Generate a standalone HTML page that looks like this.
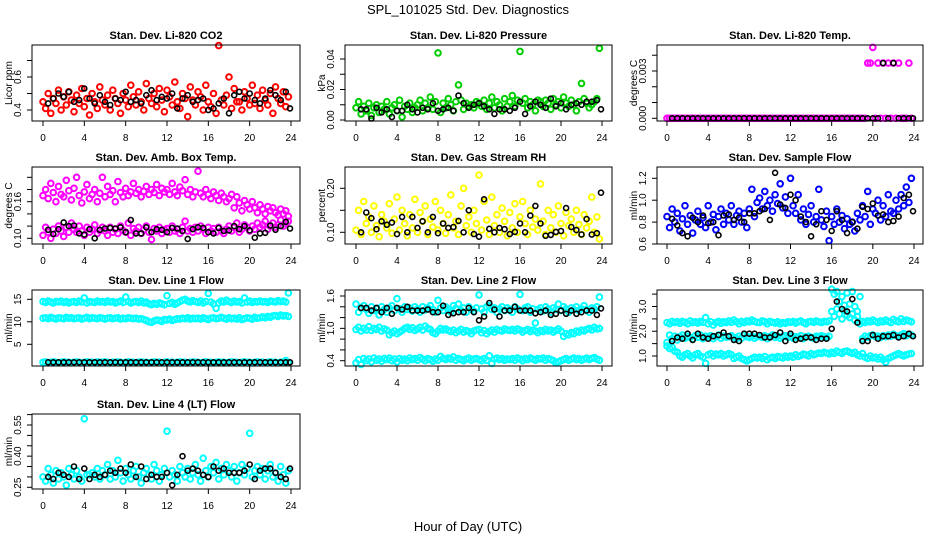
<!DOCTYPE html>
<html><head><meta charset="utf-8"><title>SPL_101025 Std. Dev. Diagnostics</title>
<style>
html,body{margin:0;padding:0;background:#fff;}
svg{display:block;font-family:"Liberation Sans",Arial,sans-serif;}
</style></head>
<body>
<svg id="chart" width="936" height="540" viewBox="0 0 936 540" xmlns="http://www.w3.org/2000/svg">
<rect width="936" height="540" fill="#fff"/>
<text x="468" y="14" text-anchor="middle" font-size="13">SPL_101025  Std. Dev. Diagnostics</text>
<text x="468" y="531" text-anchor="middle" font-size="13">Hour of Day (UTC)</text>
</svg>
<script>
const hours96 = [0,0.25,0.5,0.75,1,1.25,1.5,1.75,2,2.25,2.5,2.75,3,3.25,3.5,3.75,4,4.25,4.5,4.75,5,5.25,5.5,5.75,6,6.25,6.5,6.75,7,7.25,7.5,7.75,8,8.25,8.5,8.75,9,9.25,9.5,9.75,10,10.25,10.5,10.75,11,11.25,11.5,11.75,12,12.25,12.5,12.75,13,13.25,13.5,13.75,14,14.25,14.5,14.75,15,15.25,15.5,15.75,16,16.25,16.5,16.75,17,17.25,17.5,17.75,18,18.25,18.5,18.75,19,19.25,19.5,19.75,20,20.25,20.5,20.75,21,21.25,21.5,21.75,22,22.25,22.5,22.75,23,23.25,23.5,23.75];
const hours48 = [0.5,1,1.5,2,2.5,3,3.5,4,4.5,5,5.5,6,6.5,7,7.5,8,8.5,9,9.5,10,10.5,11,11.5,12,12.5,13,13.5,14,14.5,15,15.5,16,16.5,17,17.5,18,18.5,19,19.5,20,20.5,21,21.5,22,22.5,23,23.5,23.9];
const xTicks = [0,4,8,12,16,20,24];

const co2Red = [.45,.41,.50,.38,.47,.44,.52,.40,.48,.43,.51,.46,
.39,.49,.44,.53,.42,.47,.37,.50,.45,.41,.54,.46,
.43,.49,.40,.52,.47,.44,.38,.50,.46,.42,.55,.48,
.43,.51,.45,.40,.56,.47,.44,.50,.42,.53,.46,.39,
.52,.48,.43,.57,.45,.41,.50,.47,.36,.54,.46,.43,
.51,.48,.40,.55,.45,.42,.50,.38,.79,.46,.43,.49,
.60,.41,.53,.45,.45,.40,.51,.47,.43,.55,.44,.49,
.41,.52,.46,.43,.50,.38,.54,.47,.44,.51,.42,.48];
const co2Black = [.44,.47,.50,.48,.51,.45,.46,.53,.47,.44,.49,.45,
.43,.47,.46,.51,.45,.46,.44,.49,.52,.46,.48,.47,
.50,.41,.47,.49,.45,.46,.47,.40,.41,.44,.47,.38,
.49,.51,.47,.50,.46,.44,.47,.52,.49,.46,.51,.41];

const presGreen = [.008,.012,.004,.009,.006,.011,.003,.008,.010,.005,.009,.007,
.012,.004,.008,.010,.006,.013,.002,.009,.007,.011,.005,.008,
.010,.013,.006,.011,.008,.015,.007,.012,.044,.005,.011,.008,
.014,.010,.006,.012,.023,.013,.007,.011,.009,.010,.008,.012,
.011,.009,.013,.007,.011,.015,.008,.012,.010,.006,.014,.009,
.012,.016,.009,.013,.045,.011,.014,.008,.012,.010,.006,.013,
.012,.009,.013,.011,.007,.014,.010,.012,.008,.015,.011,.009,
.013,.010,.006,.012,.024,.014,.011,.008,.010,.012,.014,.047];
const presBlack = [.007,.007,.001,.008,.005,.007,.002,.006,.006,.010,.007,.005,
.008,.007,.011,.006,.007,.008,.006,.016,.011,.008,.010,.011,
.009,.007,.004,.007,.007,.006,.008,.012,.004,.009,.012,.010,
.008,.014,.009,.011,.007,.010,.011,.010,.012,.012,.013,.007];

const tempMag = [0,0,0,0,0,0,0,0,0,0,0,0,
0,0,0,0,0,0,0,0,0,0,0,0,
0,0,0,0,0,0,0,0,0,0,0,0,
0,0,0,0,0,0,0,0,0,0,0,0,
0,0,0,0,0,0,0,0,0,0,0,0,
0,0,0,0,0,0,0,0,0,0,0,0,
0,0,0,0,0,0,.0035,.0035,.0045,0,.0035,0,
.0035,0,.0035,0,.0035,0,.0035,0,0,0,.0035,0];
const tempBlack = [0,0,0,0,0,0,0,0,0,0,0,0,
0,0,0,0,0,0,0,0,0,0,0,0,
0,0,0,0,0,0,0,0,0,0,0,0,
0,0,0,0,0,.0035,0,.0035,0,0,0,0];

const boxUpper = [.170,.180,.165,.190,.175,.160,.185,.172,.168,.195,.178,.163,
.182,.200,.170,.158,.176,.188,.165,.172,.180,.160,.174,.200,
.168,.185,.172,.178,.160,.193,.175,.168,.182,.170,.176,.190,
.174,.180,.168,.177,.185,.172,.180,.175,.188,.170,.182,.176,
.180,.172,.190,.176,.170,.184,.178,.196,.172,.180,.168,.176,
.210,.174,.168,.180,.172,.165,.176,.170,.162,.174,.168,.160,
.165,.172,.150,.168,.158,.145,.162,.155,.148,.160,.150,.142,
.155,.148,.140,.152,.145,.150,.142,.138,.148,.140,.145,.136];
const boxLower = [.105,.118,.110,.100,.115,.108,.120,.112,.103,.118,.110,.125,
.115,.110,.120,.112,.105,.118,.110,.115,.122,.108,.113,.118,
.112,.105,.118,.110,.115,.108,.120,.113,.110,.125,.105,.116,
.112,.118,.108,.114,.120,.110,.098,.116,.112,.118,.108,.114,
.116,.110,.120,.112,.115,.108,.118,.128,.112,.116,.110,.118,
.112,.120,.115,.108,.118,.112,.116,.110,.118,.112,.108,.115,
.120,.112,.118,.125,.110,.115,.122,.118,.112,.120,.115,.125,
.118,.122,.128,.115,.120,.125,.118,.122,.130,.120,.125,.128];
const boxBlack = [.114,.107,.115,.126,.120,.121,.108,.106,.115,.100,.114,.116,
.117,.116,.118,.110,.130,.108,.108,.118,.110,.115,.114,.110,
.117,.116,.112,.099,.115,.118,.117,.110,.108,.117,.112,.113,
.120,.115,.120,.113,.101,.108,.109,.121,.114,.120,.127,.116];

const rhYellow = [.105,.150,.095,.170,.120,.135,.100,.160,.115,.090,.140,.125,
.110,.165,.098,.130,.180,.105,.150,.120,.092,.140,.110,.175,
.100,.145,.125,.160,.095,.130,.112,.170,.105,.150,.120,.098,
.140,.185,.110,.125,.095,.160,.200,.115,.135,.100,.150,.120,
.230,.105,.170,.128,.095,.180,.115,.140,.100,.155,.125,.092,
.145,.110,.165,.100,.135,.170,.120,.095,.150,.112,.130,.105,
.210,.125,.095,.150,.110,.140,.100,.160,.120,.092,.145,.115,
.130,.100,.150,.118,.095,.140,.110,.125,.180,.100,.135,.085];
const rhBlack = [.100,.145,.132,.107,.125,.117,.122,.096,.135,.100,.135,.110,
.125,.100,.135,.098,.120,.110,.112,.126,.100,.150,.096,.090,
.175,.108,.100,.110,.107,.096,.101,.120,.100,.138,.160,.120,
.092,.094,.101,.103,.155,.112,.105,.095,.130,.095,.098,.190];

const flowBlue = [.85,.75,.92,.80,.88,.72,.83,.95,.78,.86,.70,.82,
.90,.78,.84,.75,.95,.80,.87,.73,.85,.92,.78,.88,
.82,.95,.78,.86,.90,.80,.88,.75,.92,1.10,.85,.98,
1.02,.92,1.08,.95,1.00,.90,1.05,.97,1.15,.93,1.03,.88,
1.20,.95,.88,1.05,.82,.92,.78,.87,.95,.80,.85,1.10,
.82,.76,.90,.63,.85,.78,.92,.80,.86,.74,.83,.78,
.80,.72,.88,.82,.95,.85,1.08,.78,.92,.88,1.00,.82,
.95,.85,1.05,.90,.88,1.00,.92,1.05,.95,1.12,.98,1.20];
const flowBlack = [.83,.77,.70,.67,.84,.80,.86,.79,.80,.68,.86,.87,
.82,.84,.80,.88,.88,.90,.92,.82,1.25,.96,.93,1.05,
1.00,.85,.80,.67,.78,.90,.82,.72,.90,.82,.70,.80,
.74,.94,.92,.97,.86,.87,.80,.81,.85,1.02,1.05,.90];

const l1Top = [14.5,14.3,14.6,14.4,14.2,14.5,14.4,14.6,14.3,14.5,14.2,14.4,
14.5,14.3,14.6,14.4,15.3,14.2,14.5,14.4,14.3,14.6,14.4,14.5,
14.3,14.6,14.4,14.5,14.2,14.4,14.6,14.3,15.5,14.5,14.2,14.4,
14.5,14.3,14.6,14.2,14.4,14.0,13.8,14.1,13.9,14.2,14.0,13.8,
15.8,14.1,14.3,13.9,14.2,14.5,14.8,15.0,14.6,14.4,14.7,14.5,
14.3,14.6,14.2,14.5,16.3,14.4,14.0,13.0,14.2,14.6,14.4,14.8,
14.5,14.3,14.6,14.4,14.5,14.2,15.3,14.4,14.6,14.3,14.5,14.4,
14.6,14.4,14.5,14.3,14.6,14.5,14.4,14.7,14.5,14.6,14.4,16.4];
const l1Mid = [10.8,10.9,10.7,11.0,10.8,10.6,10.9,10.8,10.7,11.0,10.8,10.9,
10.7,10.8,10.9,10.6,10.8,11.0,10.7,10.9,10.8,10.7,10.9,10.8,
10.6,10.8,10.9,10.7,10.8,10.9,10.6,10.8,10.7,10.9,10.8,10.7,
10.8,10.6,10.7,10.5,10.3,10.0,9.9,10.2,10.4,10.3,10.1,10.5,
10.4,10.6,10.3,10.5,10.7,10.6,10.8,10.7,10.9,10.6,10.8,10.7,
10.8,10.6,10.9,10.7,10.5,10.8,10.9,10.7,10.8,11.0,10.8,10.6,
10.9,10.7,10.8,10.6,10.9,10.5,10.7,10.9,10.8,10.6,11.0,10.8,
10.9,11.1,10.9,11.2,11.0,11.3,11.4,11.2,11.5,11.3,11.4,11.2];
const l1Low = [1.0,1.1,0.9,1.0,1.1,1.0,0.9,1.0,1.1,1.0,1.0,0.9,
1.0,1.1,1.0,0.9,1.0,1.1,1.0,1.0,0.9,1.1,1.0,1.0,
1.1,1.0,0.9,1.0,1.0,1.1,1.0,0.9,1.0,1.1,1.0,1.0,
0.9,1.0,1.1,1.0,1.0,0.9,1.0,1.1,1.0,1.0,0.9,1.0,
1.1,1.0,1.0,0.9,1.0,1.1,1.0,1.0,0.9,1.0,1.1,1.0,
1.0,0.9,1.0,1.1,1.0,1.0,0.9,1.0,1.1,1.0,1.0,0.9,
1.0,1.1,1.0,1.0,0.9,1.0,1.1,1.0,1.0,0.9,1.0,1.1,
1.0,1.0,0.9,1.0,1.1,1.0,1.0,0.9,1.0,1.1,1.4,1.0];
const l1Black = [1.0,1.0,1.0,1.0,1.0,1.0,1.0,1.0,1.0,1.0,1.0,1.0,
1.0,1.0,1.0,1.0,1.0,1.0,1.0,1.0,1.0,1.0,1.0,1.0,
1.0,1.0,1.0,1.0,1.0,1.0,1.0,1.0,1.0,1.0,1.0,1.0,
1.0,1.0,1.0,1.0,1.0,1.0,1.0,1.0,1.0,1.0,1.0,1.0];

const l2Top = [1.45,1.30,1.38,1.42,1.35,1.28,1.40,1.33,1.37,1.25,1.40,1.35,
1.30,1.38,1.42,1.33,1.55,1.36,1.30,1.40,1.35,1.38,1.32,1.40,
1.36,1.30,1.40,1.34,1.38,1.42,1.35,1.30,1.52,1.38,1.33,1.40,
1.35,1.30,1.42,1.37,1.45,1.33,1.38,1.30,1.40,1.35,1.32,1.38,
1.62,1.36,1.30,1.40,1.42,1.35,1.38,1.30,1.36,1.40,1.33,1.38,
1.35,1.30,1.40,1.36,1.63,1.33,1.38,1.40,1.30,1.36,1.10,1.35,
1.38,1.32,1.40,1.36,1.30,1.38,1.35,1.45,1.33,1.40,1.36,1.30,
1.38,1.35,1.40,1.33,1.36,1.42,1.35,1.30,1.38,1.36,1.40,1.58];
const l2Mid = [.98,1.02,.95,1.00,.97,1.03,.96,1.00,.98,1.02,.95,.99,
.97,.88,.92,.95,.90,.93,.96,1.00,1.02,.98,1.01,.96,
.99,1.02,.97,1.04,1.00,.98,.92,.90,.95,1.00,.97,.99,
.96,.94,.97,.92,.95,.98,.93,.96,.94,.90,.95,.97,
.98,.92,.96,.90,.94,.97,.93,.98,.96,.95,.99,.97,
.96,.98,.95,.99,.97,.93,.96,.98,.94,.97,.95,.92,
.96,.94,.98,.95,.97,.93,.96,.99,.95,.85,.90,.88,
.92,.90,.95,.93,.97,.95,.98,1.00,.97,1.02,.99,1.00];
const l2Low = [.36,.42,.33,.44,.40,.43,.38,.45,.41,.43,.39,.44,
.42,.45,.40,.43,.38,.44,.41,.43,.40,.45,.42,.44,
.41,.46,.43,.40,.44,.42,.39,.43,.41,.48,.44,.42,
.45,.43,.47,.41,.44,.42,.40,.43,.45,.41,.43,.44,
.42,.40,.44,.41,.49,.35,.43,.45,.42,.44,.41,.43,
.42,.44,.41,.45,.43,.40,.44,.42,.45,.43,.41,.44,
.43,.45,.41,.44,.42,.40,.36,.38,.40,.42,.44,.41,
.43,.45,.42,.44,.41,.43,.45,.42,.44,.46,.43,.41];
const l2Black = [1.38,1.38,1.33,1.38,1.30,1.38,1.27,1.38,1.35,1.40,1.33,1.33,
1.33,1.35,1.30,1.30,1.42,1.25,1.28,1.30,1.30,1.38,1.30,1.15,
1.22,1.47,1.35,1.22,1.33,1.33,1.40,1.33,1.33,1.33,1.28,1.30,
1.33,1.25,1.27,1.33,1.27,1.33,1.27,1.30,1.33,1.33,1.25,1.37];

const l3Top = [2.35,2.30,2.40,2.35,2.38,2.32,2.40,2.36,2.30,2.42,2.35,2.38,
2.33,2.40,2.36,2.55,2.30,2.38,2.25,2.35,2.40,2.32,2.38,2.35,
2.42,2.36,2.45,2.38,2.30,2.40,2.35,2.42,2.38,2.45,2.40,2.36,
2.35,2.42,2.38,2.30,2.40,2.36,2.33,2.38,2.30,2.35,2.32,2.38,
2.36,2.40,2.33,2.38,2.42,2.35,2.30,2.38,2.40,2.36,2.42,2.38,
2.35,2.40,2.38,2.42,3.70,3.50,3.60,3.20,3.40,3.05,3.55,3.10,
3.60,3.00,2.80,3.40,2.40,2.35,2.42,2.38,2.45,2.40,2.35,2.42,
2.38,2.45,2.40,2.35,2.48,2.42,2.38,2.50,2.40,2.45,2.42,2.38];
const l3Mid = [1.55,1.85,1.70,1.80,1.65,1.78,1.85,1.72,1.80,1.75,1.68,1.82,
1.76,1.85,1.70,1.80,1.75,1.82,1.70,1.78,1.85,1.72,1.80,1.76,
1.78,1.82,1.75,1.70,1.80,1.72,1.85,1.78,1.75,1.80,1.72,1.78,
1.80,1.75,1.82,1.70,1.78,1.85,1.75,1.80,1.72,1.78,1.82,1.75,
1.80,1.72,1.78,1.75,1.82,1.70,1.78,1.80,1.75,1.72,1.80,1.78,
1.82,1.78,1.75,1.80,2.80,2.60,2.90,2.70,2.50,2.85,2.65,2.55,
2.70,2.45,2.60,2.30,1.70,1.80,1.75,1.82,1.85,1.78,1.80,1.75,
1.82,1.78,1.85,1.80,1.88,1.82,1.78,1.85,1.90,1.82,1.88,1.85];
const l3Low = [1.40,1.30,1.35,1.20,1.15,1.00,0.95,1.05,1.10,1.00,0.92,1.05,
1.10,1.00,0.95,0.70,1.05,1.10,1.00,1.08,1.05,1.10,1.00,1.05,
1.10,1.05,0.90,0.95,1.00,0.90,0.85,0.80,0.85,0.90,0.95,0.92,
0.95,0.90,0.98,0.85,0.92,0.95,0.90,0.98,0.95,0.92,1.00,0.95,
1.00,0.95,1.05,0.98,1.02,1.08,1.05,1.00,1.10,1.05,1.08,1.12,
1.10,1.15,1.12,1.08,1.15,1.10,1.20,1.15,1.10,1.18,1.20,1.15,
1.10,1.15,1.05,1.00,1.10,0.95,0.90,1.00,0.92,0.95,0.88,0.95,
0.85,0.75,0.90,0.95,1.00,1.05,1.10,1.05,1.00,1.05,1.08,1.10];
const l3Black = [1.60,1.75,1.70,1.90,1.65,1.90,1.75,1.70,1.80,1.85,1.95,1.80,
1.65,1.60,1.90,1.90,1.90,1.85,1.75,1.75,1.85,1.95,1.60,1.90,
1.65,1.70,1.75,1.75,1.65,1.70,1.70,2.10,3.20,2.90,2.80,3.30,
2.35,1.60,1.60,1.85,1.70,1.80,1.80,1.85,1.75,1.80,1.90,1.80];

const l4Cyan = [.30,.28,.34,.31,.27,.33,.29,.32,.30,.26,.34,.31,
.29,.33,.30,.28,.58,.31,.31,.32,.30,.34,.29,.33,
.31,.36,.29,.33,.30,.38,.32,.28,.34,.31,.29,.33,
.35,.30,.27,.32,.34,.31,.29,.36,.33,.28,.31,.34,
.52,.30,.33,.31,.28,.35,.32,.30,.34,.29,.32,.36,
.31,.28,.39,.33,.30,.35,.32,.37,.29,.34,.31,.36,
.33,.30,.35,.28,.32,.36,.31,.34,.51,.30,.33,.35,
.31,.34,.29,.33,.36,.30,.32,.28,.35,.31,.27,.33];
const l4Black = [.30,.29,.32,.31,.30,.35,.29,.34,.29,.31,.30,.31,
.33,.32,.34,.32,.36,.30,.35,.29,.31,.30,.30,.32,
.26,.31,.40,.33,.34,.33,.31,.30,.35,.33,.34,.32,
.32,.32,.33,.36,.29,.33,.34,.34,.32,.30,.29,.34];

const panels = [
 {name:'co2', title:'Stan. Dev. Li-820 CO2', ylab:'Licor ppm', box:[32,45,300,121], col:0, y1:[0.4,110], y2:[0.6,77], ticks:[0.4,0.5,0.6,0.7], labels:['0.4','0.6'], labelVals:[0.4,0.6],
  series:[[co2Red,'#ff0000',hours96],[co2Black,'#000',hours48]]},
 {name:'pressure', title:'Stan. Dev. Li-820 Pressure', ylab:'kPa', box:[345,45,612,121], col:1, y1:[0,120], y2:[0.04,59], ticks:[0,0.01,0.02,0.03,0.04], labels:['0.00','0.02','0.04'], labelVals:[0,0.02,0.04],
  series:[[presGreen,'#00cd00',hours96],[presBlack,'#000',hours48]]},
 {name:'li820-temp', title:'Stan. Dev. Li-820 Temp.', ylab:'degrees C', box:[657,45,923,121], col:2, y1:[0,118.3], y2:[0.003,71], ticks:[0,0.001,0.002,0.003,0.004], labels:['0.000','0.003'], labelVals:[0,0.003],
  series:[[tempMag,'#ff00ff',hours96],[tempBlack,'#000',hours48]]},
 {name:'amb-box-temp', title:'Stan. Dev. Amb. Box Temp.', ylab:'degrees C', box:[32,167,300,244], col:0, y1:[0.10,238.3], y2:[0.16,201.7], ticks:[0.10,0.12,0.14,0.16,0.18,0.20], labels:['0.10','0.16'], labelVals:[0.10,0.16],
  series:[[boxUpper,'#ff00ff',hours96],[boxLower,'#ff00ff',hours96],[boxBlack,'#000',hours48]]},
 {name:'gas-stream-rh', title:'Stan. Dev. Gas Stream RH', ylab:'percent', box:[345,167,612,244], col:1, y1:[0.10,232.3], y2:[0.20,188.3], ticks:[0.10,0.15,0.20], labels:['0.10','0.20'], labelVals:[0.10,0.20],
  series:[[rhYellow,'#ffff00',hours96],[rhBlack,'#000',hours48]]},
 {name:'sample-flow', title:'Stan. Dev. Sample Flow', ylab:'ml/min', box:[657,167,923,244], col:2, y1:[0.6,244], y2:[1.2,178.3], ticks:[0.6,0.8,1.0,1.2], labels:['0.6','0.8','1.0','1.2'], labelVals:[0.6,0.8,1.0,1.2],
  series:[[flowBlue,'#0000ff',hours96],[flowBlack,'#000',hours48]]},
 {name:'line1-flow', title:'Stan. Dev. Line 1 Flow', ylab:'ml/min', box:[32,290,300,366], col:0, y1:[5,344.3], y2:[15,299.3], ticks:[5,10,15], labels:['5','10','15'], labelVals:[5,10,15],
  series:[[l1Top,'#00ffff',hours96],[l1Mid,'#00ffff',hours96],[l1Low,'#00ffff',hours96],[l1Black,'#000',hours48]]},
 {name:'line2-flow', title:'Stan. Dev. Line 2 Flow', ylab:'ml/min', box:[345,290,612,366], col:1, y1:[0.4,360.7], y2:[1.6,296], ticks:[0.4,0.6,0.8,1.0,1.2,1.4,1.6], labels:['0.4','1.0','1.6'], labelVals:[0.4,1.0,1.6],
  series:[[l2Top,'#00ffff',hours96],[l2Mid,'#00ffff',hours96],[l2Low,'#00ffff',hours96],[l2Black,'#000',hours48]]},
 {name:'line3-flow', title:'Stan. Dev. Line 3 Flow', ylab:'ml/min', box:[657,290,923,366], col:2, y1:[1.0,356], y2:[3.0,306.5], ticks:[1.0,1.5,2.0,2.5,3.0,3.5], labels:['1.0','2.0','3.0'], labelVals:[1.0,2.0,3.0],
  series:[[l3Top,'#00ffff',hours96],[l3Mid,'#00ffff',hours96],[l3Low,'#00ffff',hours96],[l3Black,'#000',hours48]]},
 {name:'line4-flow', title:'Stan. Dev. Line 4 (LT) Flow', ylab:'ml/min', box:[32,414,300,489], col:0, y1:[0.25,487.3], y2:[0.55,425], ticks:[0.25,0.30,0.35,0.40,0.45,0.50,0.55,0.60], labels:['0.25','0.40','0.55'], labelVals:[0.25,0.40,0.55],
  series:[[l4Cyan,'#00ffff',hours96],[l4Black,'#000',hours48]]}
];
const colX = [[43,291],[356,602],[667,914]];
const ylabX = [9,322,634];
const NS = 'http://www.w3.org/2000/svg';
const svg = document.getElementById('chart');
function mk(tag, attrs, parent){const e=document.createElementNS(NS,tag);for(const k in attrs)e.setAttribute(k,attrs[k]);parent.appendChild(e);return e;}

panels.forEach(p=>{
  const g = mk('g',{},svg);
  
  
  const [bx0,by0,bx1,by1] = p.box;
  const [xa,xb] = colX[p.col];
  const xs = h => xa + (xb-xa)*h/24;
  const ys = v => p.y1[1] + (v-p.y1[0])*(p.y2[1]-p.y1[1])/(p.y2[0]-p.y1[0]);
  const t = mk('text',{x:(bx0+bx1)/2, y:by0-6, 'text-anchor':'middle','font-size':'11','font-weight':'bold'},g);
  t.textContent = p.title;
  
  
  p.series.forEach(s=>{
    const [vals,color,hrs] = s;
    const isBlack = color==='#000';
    const sg = mk('g',{fill:'none',stroke:color,'stroke-width':isBlack?'1.6':'2.0'},g);
    
    
    vals.forEach((v,i)=>{
      if(i>=hrs.length) return;
      const c = mk('circle',{cx:xs(hrs[i]).toFixed(1), cy:ys(v).toFixed(1), r:isBlack?'2.5':'2.8'},sg);
      
      
    });
  });
  const box = mk('rect',{x:bx0,y:by0,width:bx1-bx0,height:by1-by0,fill:'none',stroke:'#000','stroke-width':'1'},g);
  
  
  const xg = mk('g',{stroke:'#000','stroke-width':'1'},g);
  
  
  mk('line',{x1:xs(0),x2:xs(24),y1:by1,y2:by1},xg);
  xTicks.forEach(h=>{
    mk('line',{x1:xs(h),x2:xs(h),y1:by1,y2:by1+5},xg);
    const tl = mk('text',{x:xs(h),y:by1+20,'text-anchor':'middle','font-size':'10',stroke:'none',fill:'#000'},xg);
    tl.textContent = String(h);
    
    
  });
  const yg = mk('g',{stroke:'#000','stroke-width':'1'},g);
  
  
  mk('line',{x1:bx0,x2:bx0,y1:ys(p.ticks[0]),y2:ys(p.ticks[p.ticks.length-1])},yg);
  p.ticks.forEach(v=>{ mk('line',{x1:bx0-5,x2:bx0,y1:ys(v),y2:ys(v)},yg); });
  p.labelVals.forEach((v,i)=>{
    const lx = bx0-11, ly = ys(v);
    const tl = mk('text',{x:lx,y:ly,'text-anchor':'middle','font-size':'10',stroke:'none',fill:'#000',transform:'rotate(-90 '+lx+' '+ly+')'},yg);
    tl.textContent = p.labels[i];
    
    
  });
  const lx = ylabX[p.col]+3, ly = (by0+by1)/2;
  const yl = mk('text',{x:lx,y:ly,'text-anchor':'middle','font-size':'10',transform:'rotate(-90 '+lx+' '+ly+')'},g);
  yl.textContent = p.ylab;
  
  
});
</script>
</body></html>
